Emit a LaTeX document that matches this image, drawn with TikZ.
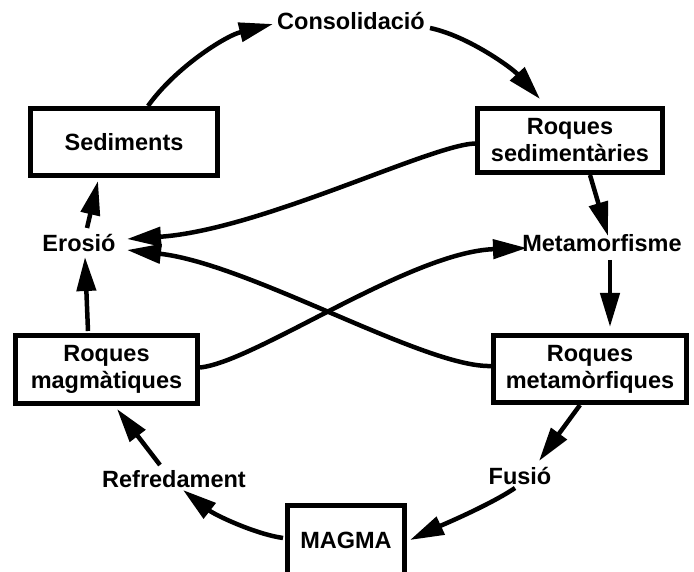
\documentclass[tikz,border=0pt]{standalone}
\usepackage{fontspec}
\setmainfont{Liberation Sans}
\usetikzlibrary{arrows.meta,calc}
\tikzset{
  bighead/.tip={Triangle[length=34pt,width=19pt]},
  boxnode/.style={draw=black, line width=5pt, fill=white, inner sep=0pt, align=center,
    font=\fontsize{23.5}{27}\selectfont\bfseries},
  lab/.style={inner sep=2pt, anchor=base, font=\fontsize{23.5}{27}\selectfont\bfseries},
  conn/.style={line width=4.5pt, arrows={-bighead}},
}
\begin{document}
\begin{tikzpicture}[x=1pt,y=-1pt]
\useasboundingbox (0,0) rectangle (694,572);
% boxes
\node[boxnode, minimum width=187pt, minimum height=67pt] (sed) at (124,142) {Sediments};
\node[boxnode, minimum width=185pt, minimum height=64pt] (rs) at (570,140.5) {Roques\\sedimentàries};
\node[boxnode, minimum width=182pt, minimum height=68pt] (rmg) at (106.5,369.5) {Roques\\magmàtiques};
\node[boxnode, minimum width=193pt, minimum height=67pt] (rm) at (590,369) {Roques\\metamòrfiques};
\node[boxnode, minimum width=117pt, minimum height=70pt] (magma) at (346,540) {MAGMA};
% labels
\node[lab] (cons) at (351,30) {Consolidació};
\node[lab] (ero) at (79,252) {Erosió};
\node[lab] (met) at (602,252) {Metamorfisme};
\node[lab] (ref) at (174,487) {Refredament};
\node[lab] (fus) at (520,484) {Fusió};
% cycle arrows
\draw[conn] ($(sed.north)+(24,0)$) .. controls (175,68) and (225,36) .. ($(cons.base)+(-78,-6)$);
\draw[conn] ($(cons.base)+(79,-2)$) .. controls (468,36) and (512,68) .. ($(rs.north)+(-30,-7)$);
\draw[conn] ($(rs.south)+(20,0)$) -- ($(met.base)+(6,-16)$);
\draw[conn] ($(met.base)+(8,8)$) -- ($(rm.north)+(20,-6)$);
\draw[conn] ($(rm.south)+(-10,0)$) -- ($(fus.base)+(19,-23)$);
\draw[conn] ($(fus.base)+(-5,4)$) .. controls (490,505) and (440,526) .. ($(magma.east)+(3,0)$);
\draw[conn] ($(magma.west)+(-2,-2)$) .. controls (255,534) and (215,515) .. ($(ref.base)+(9,3)$);
\draw[conn] ($(ref.base)+(-14,-22)$) -- ($(rmg.south)+(10.5,3)$);
\draw[conn] ($(rmg.north)+(-18.5,-2)$) -- ($(ero.base)+(6,5)$);
\draw[conn] ($(ero.base)+(8,-24)$) -- ($(sed.south)+(-26,3)$);
% crossing arrows
\draw[conn] ($(rs.west)+(0,3)$) .. controls (430,145) and (260,230) .. ($(ero.base)+(48,-13)$);
\draw[conn] ($(rm.west)+(0,-3)$) .. controls (425,368) and (250,264) .. ($(ero.base)+(48,-2)$);
\draw[conn] ($(rmg.east)+(0,-2)$) .. controls (255,362) and (410,252) .. ($(met.base)+(-75,-4)$);
\end{tikzpicture}
\end{document}
